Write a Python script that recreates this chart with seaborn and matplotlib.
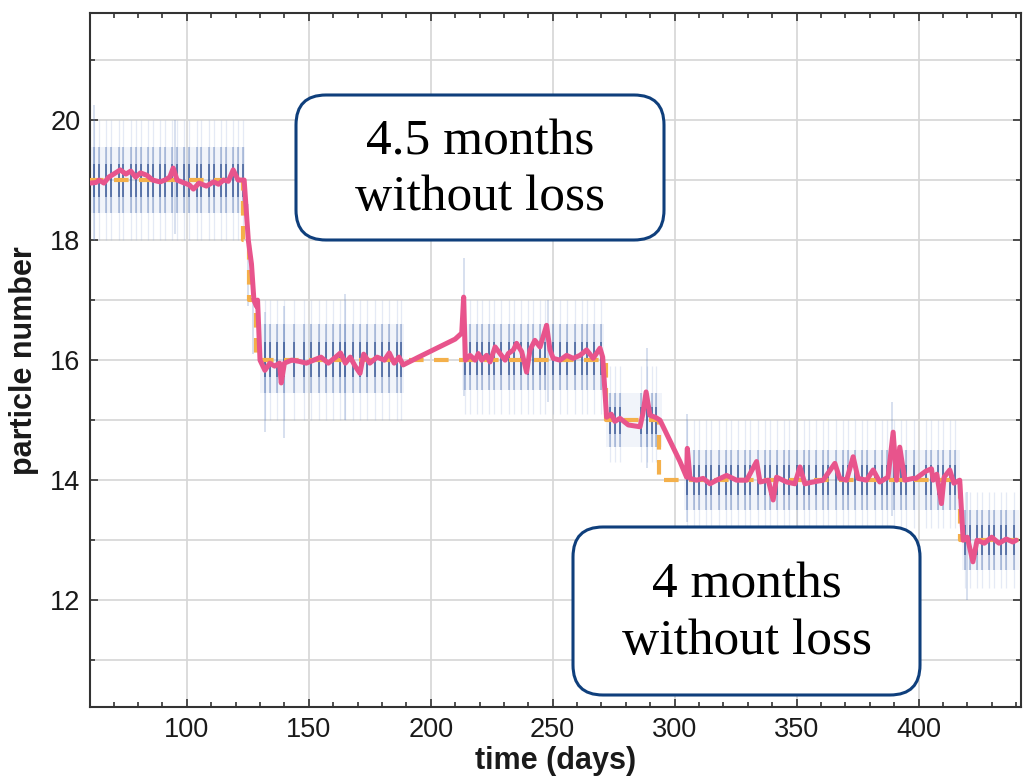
import matplotlib
matplotlib.use('Agg')
import matplotlib.pyplot as plt
from matplotlib.patches import FancyBboxPatch
from matplotlib.ticker import MultipleLocator
import seaborn as sns

# 粒子数的滑动平均 (粉色线)
pink_day = [60.5, 62.8, 64, 66, 68, 70, 72.7, 75, 77, 79, 81, 83.6, 86, 89, 91, 93, 94.4, 96, 99, 101,
            102.7, 105, 108, 111, 113, 115, 117, 119, 121, 123.5,
            125.2, 126.5, 127.5, 128.5, 129, 130, 132, 134, 136, 138, 138.7, 140, 143, 146, 149, 152,
            155, 158, 161, 163, 165, 167, 169, 171, 172.5, 175, 178, 181, 183, 185, 187, 188.7,
            195, 200, 205, 210, 212.7, 213.5, 214.2,
            216.1, 218.2, 219.5, 220.9, 222.9, 224.3, 226.4, 228.4, 230.5, 231.8, 233.9, 235.2, 237.3,
            239.3, 240.7, 242.7, 244.8, 247.5, 248.9, 250.2, 253, 255.7, 258.4, 261.2, 263.9, 266.6,
            269.4, 270.5,
            272.1, 274, 275.5, 277.6, 281, 285.8, 287, 288.3, 289.9, 292, 294,
            302.2, 304.9, 305.2, 306.3, 309, 311.7, 314.5, 317.2, 321.3, 325.4, 329.5, 333.6, 335,
            338.4, 340.4, 341.8, 345.9, 349.3, 351.4, 353.4, 356.8, 360.9, 365.7, 367.7, 370.5,
            373.2, 375.2, 378.7, 381.4, 384.1, 387.5, 389.6, 391, 392.3, 394.4, 397.8,
            399, 403, 405.3, 406, 407.5, 409.4, 410.5, 412.8, 414.5, 416.9,
            418.3, 420, 422.3, 424, 427, 430, 433, 436, 438.7, 440]
pink_val = [18.95, 18.96, 19.0, 18.95, 19.05, 19.1, 19.17, 19.1, 19.15, 19.05, 19.12, 19.08, 19.0, 18.97,
            19.0, 19.05, 19.2, 19.0, 18.95, 18.92,
            18.85, 18.95, 18.9, 18.97, 18.93, 19.0, 18.98, 19.17, 19.0, 19.0,
            18.0, 17.6, 17.0, 16.9, 17.0, 16.0, 15.83, 15.95, 15.9, 15.95, 15.62, 15.95, 16.0, 15.98,
            15.95, 16.0,
            16.05, 15.95, 16.05, 16.12, 15.95, 16.05, 15.9, 15.78, 16.1, 15.95, 16.05, 16.0, 16.12,
            15.95, 16.05, 15.92,
            16.05, 16.15, 16.25, 16.35, 16.45, 17.05, 16.0,
            16.08, 16.0, 16.11, 16.0, 16.08, 15.97, 16.22, 16.11, 16.0, 16.11, 16.17, 16.28, 16.14,
            15.8, 16.17, 16.33, 16.22, 16.58, 16.17, 16.03, 16.0, 16.08, 16.03, 16.08, 16.17, 16.03,
            16.2, 16.05,
            15.05, 15.1, 14.98, 15.03, 14.92, 14.89, 15.11, 15.47, 15.08, 15.05, 15.0,
            14.31, 14.05, 14.53, 14.03, 14.0, 14.03, 13.94, 14.0, 14.08, 14.0, 14.0, 14.31, 13.97,
            14.0, 13.67, 14.05, 13.97, 13.94, 14.22, 13.94, 13.97, 14.0, 14.28, 14.03, 14.0,
            14.39, 14.03, 14.0, 14.17, 13.97, 14.05, 14.8, 14.0, 14.55, 14.0, 14.03,
            14.03, 14.15, 14.19, 14.0, 14.1, 13.61, 14.05, 14.17, 13.95, 14.0,
            13.0, 13.05, 12.64, 13.0, 12.95, 13.05, 12.95, 13.02, 12.97, 13.0]

# 整数粒子数 (橙色虚线台阶)
step_day = [60, 123, 123, 125.5, 125.5, 128.5, 128.5, 272, 272, 293.5, 293.5, 417, 417, 442]
step_val = [19, 19, 18, 18, 17, 17, 16, 16, 15, 15, 14, 14, 13, 13]

# 原始测量数据的分段范围 (蓝色点云)
seg_start = [60.5, 130, 213, 272, 304, 418]
seg_end = [124, 189, 271, 295, 417, 441]
seg_level = [19, 16, 16, 15, 14, 13]
seg_core_lo = [18.45, 15.45, 15.5, 14.55, 13.5, 12.5]
seg_core_hi = [19.55, 16.6, 16.6, 15.45, 14.5, 13.5]
seg_faint_lo = [18.0, 15.0, 15.1, 14.3, 13.2, 12.2]
seg_faint_hi = [20.0, 17.0, 17.0, 15.9, 15.0, 13.8]

# 竖直条纹的位置 (每次测量的时间)
streak_day = [62, 64, 67, 69, 72, 74, 77, 79, 81, 84, 86, 89, 91, 94, 96, 99, 101, 104, 106, 109,
              111, 114, 116, 119, 121, 123,
              132, 134, 137, 140, 144, 148, 151, 154, 157, 160, 163, 165, 168, 171, 174, 177, 180,
              183, 186, 188,
              214, 216, 219, 221, 224, 226, 229, 232, 234, 237, 240, 242, 245, 247, 250, 253, 256,
              259, 262, 264, 267, 270,
              273.5, 275.5, 277.6, 286.4, 288.5, 290.6, 292.5,
              305, 308, 310, 313, 315, 318, 321, 323, 326, 329, 331, 334, 337, 339, 342, 345, 347,
              350, 353, 355, 358, 361, 363, 366, 369, 371, 374, 377, 379, 382, 385, 387, 390, 393,
              395, 398, 403, 405, 408, 410, 413, 415,
              419, 421, 424, 426, 429, 431, 434, 436, 439]

# 单独的长条纹 (离群点)
spike_day = [62, 95, 125, 127, 132, 140, 165, 213.5, 248, 288.5, 305, 389, 420]
spike_lo = [18.0, 18.1, 16.9, 16.1, 14.8, 14.7, 15.0, 15.4, 15.3, 14.2, 13.3, 13.4, 12.0]
spike_hi = [20.25, 20.0, 18.6, 17.4, 16.8, 16.9, 17.1, 17.7, 17.0, 16.2, 15.1, 15.3, 13.8]

sns.set_style('ticks')
plt.rcParams['font.family'] = ['Liberation Sans', 'DejaVu Sans']

fig, ax = plt.subplots(figsize=(10.23, 7.77), dpi=100)
fig.subplots_adjust(left=0.088, right=0.998, bottom=0.090, top=0.983)

# 蓝色点云：雾状背景 + 条纹 (外层淡、内层深)
for i in range(len(seg_start)):
    ax.fill_between([seg_start[i], seg_end[i]], seg_core_lo[i], seg_core_hi[i],
                    color='#a9bde3', alpha=0.16, lw=0, zorder=1)
    days = [d for d in streak_day if seg_start[i] <= d <= seg_end[i]]
    lvl = seg_level[i]
    ax.vlines(days, seg_faint_lo[i], seg_faint_hi[i], color='#8aa3d4', alpha=0.22, lw=0.9, zorder=1.5)
    ax.vlines(days, seg_core_lo[i], seg_core_hi[i], color='#3d62a8', alpha=0.38, lw=1.2, zorder=2)
    ax.vlines(days, (seg_core_lo[i] + lvl) / 2, (seg_core_hi[i] + lvl) / 2,
              color='#173a80', alpha=0.55, lw=1.4, zorder=2)
ax.vlines(spike_day, spike_lo, spike_hi, color='#5a7cbd', alpha=0.3, lw=1.1, zorder=1.5)

sns.lineplot(x=step_day, y=step_val, sort=False, estimator=None, ax=ax,
             color='#f4b04a', lw=3, linestyle=(0, (3.5, 2.5)), zorder=3)
sns.lineplot(x=pink_day, y=pink_val, sort=False, estimator=None, ax=ax,
             color='#e8548c', lw=3.6, zorder=4)

ax.set_xlim(60.3, 442)
ax.set_ylim(10.22, 21.78)
ax.xaxis.set_major_locator(MultipleLocator(50))
ax.xaxis.set_minor_locator(MultipleLocator(10))
ax.yaxis.set_major_locator(MultipleLocator(2))
ax.yaxis.set_minor_locator(MultipleLocator(1))

ax.grid(which='major', axis='x', color='#d6d6d6', lw=1.2)
ax.grid(which='both', axis='y', color='#d6d6d6', lw=1.2)
ax.set_axisbelow(True)

ax.tick_params(which='both', direction='in', top=True, right=True, color='#333333', width=1.2)
ax.tick_params(which='major', length=6, labelsize=19.5, pad=7, labelcolor='#1a1a1a')
ax.tick_params(which='minor', length=3.5)
for sp in ax.spines.values():
    sp.set_color('#333333')
    sp.set_linewidth(1.5)

ax.set_xlabel('time (days)', fontsize=22, fontweight='bold', labelpad=2, color='#1a1a1a')
ax.set_ylabel('particle number', fontsize=22, fontweight='bold', labelpad=8, color='#1a1a1a')

# 圆角文本框
boxes = [(2.96, 5.37, 3.68, 1.45, '4.5 months\nwithout loss'),
         (5.73, 0.82, 3.47, 1.68, '4 months\nwithout loss')]
for x0, y0, w, h, txt in boxes:
    patch = FancyBboxPatch((x0, y0), w, h, boxstyle='round,pad=0,rounding_size=0.3',
                           transform=fig.dpi_scale_trans, facecolor='white',
                           edgecolor='#0f3f7c', lw=2.2, zorder=10)
    fig.add_artist(patch)
    fig.text((x0 + w / 2) / 10.23, (y0 + h / 2) / 7.77 - 0.003, txt, ha='center', va='center',
             fontsize=37, family='Liberation Serif', linespacing=1.27, color='black', zorder=11)

plt.savefig('out.png', dpi=100)
plt.close()
